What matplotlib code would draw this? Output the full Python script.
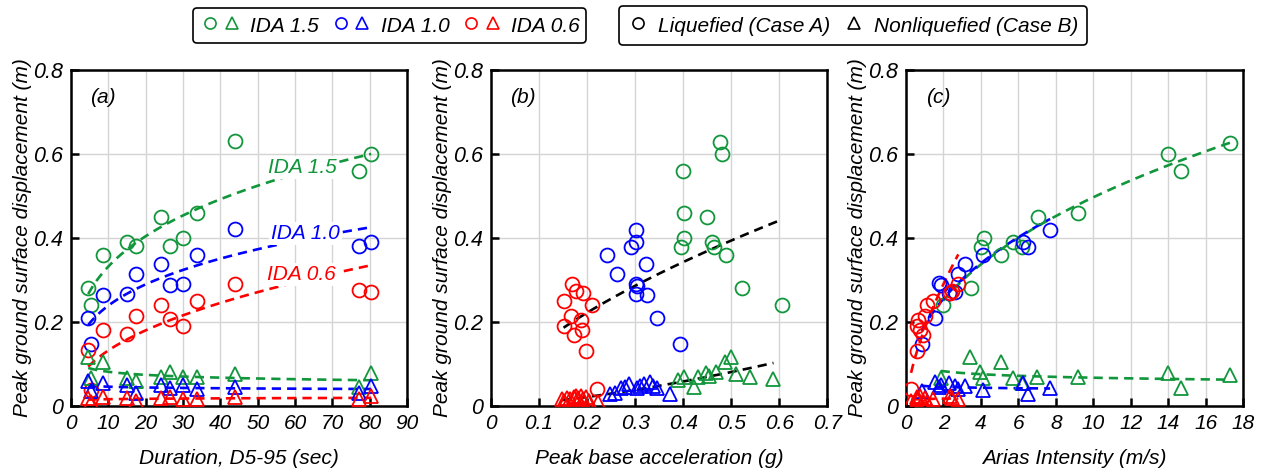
import numpy as np
import matplotlib
matplotlib.use("Agg")
import matplotlib.pyplot as plt
from matplotlib.lines import Line2D
from matplotlib.legend_handler import HandlerTuple

plt.rcParams['font.family'] = ['Liberation Sans', 'DejaVu Sans']
plt.rcParams['font.style'] = 'italic'

GREEN = '#12963c'
BLUE = '#0000ff'
RED = '#ff0000'

# ---------------- Panel (a): Duration D5-95 (sec) ----------------
dur = [4.6, 5.3, 8.5, 14.9, 17.3, 24.0, 26.5, 29.9, 33.8, 43.9, 77.1, 80.4]
a_liq_15 = [0.28, 0.24, 0.36, 0.39, 0.38, 0.45, 0.38, 0.40, 0.46, 0.63, 0.56, 0.60]
a_liq_10 = [0.21, 0.146, 0.264, 0.267, 0.314, 0.338, 0.288, 0.29, 0.36, 0.42, 0.38, 0.39]
a_liq_06 = [0.133, 0.037, 0.18, 0.17, 0.214, 0.24, 0.206, 0.19, 0.25, 0.29, 0.275, 0.27]
a_non_15 = [0.117, 0.065, 0.104, 0.067, 0.058, 0.069, 0.081, 0.069, 0.069, 0.076, 0.045, 0.079]
a_non_10 = [0.058, 0.035, 0.053, 0.049, 0.030, 0.050, 0.042, 0.049, 0.040, 0.045, 0.030, 0.048]
a_non_06 = [0.018, 0.010, 0.020, 0.018, 0.012, 0.018, 0.020, 0.015, 0.015, 0.020, 0.015, 0.023]

# ---------------- Panel (b): Peak base acceleration (g) ----------------
b_liq_15_x = [0.476, 0.481, 0.399, 0.401, 0.401, 0.396, 0.449, 0.46, 0.464, 0.489, 0.523, 0.606]
b_liq_15_y = [0.629, 0.599, 0.559, 0.459, 0.40, 0.379, 0.449, 0.39, 0.379, 0.359, 0.28, 0.24]
b_liq_10_x = [0.241, 0.262, 0.292, 0.301, 0.302, 0.301, 0.303, 0.301, 0.322, 0.324, 0.346, 0.394]
b_liq_10_y = [0.359, 0.314, 0.379, 0.419, 0.389, 0.289, 0.286, 0.266, 0.338, 0.264, 0.21, 0.146]
b_liq_06_x = [0.168, 0.151, 0.176, 0.192, 0.211, 0.166, 0.188, 0.151, 0.189, 0.172, 0.197, 0.22]
b_liq_06_y = [0.289, 0.249, 0.273, 0.268, 0.24, 0.214, 0.204, 0.19, 0.18, 0.168, 0.131, 0.039]
b_non_15_x = [0.390, 0.401, 0.423, 0.430, 0.448, 0.453, 0.469, 0.4875, 0.499, 0.51, 0.54, 0.588]
b_non_15_y = [0.061, 0.069, 0.045, 0.069, 0.077, 0.071, 0.081, 0.103, 0.117, 0.076, 0.069, 0.063]
b_non_10_x = [0.248, 0.258, 0.270, 0.279, 0.288, 0.303, 0.310, 0.319, 0.330, 0.338, 0.345, 0.373]
b_non_10_y = [0.029, 0.031, 0.041, 0.045, 0.051, 0.043, 0.047, 0.051, 0.057, 0.047, 0.043, 0.029]
b_non_06_x = [0.147, 0.152, 0.158, 0.165, 0.172, 0.177, 0.182, 0.187, 0.192, 0.197, 0.203, 0.222]
b_non_06_y = [0.015, 0.012, 0.018, 0.015, 0.020, 0.022, 0.018, 0.023, 0.015, 0.020, 0.012, 0.008]

# ---------------- Panel (c): Arias Intensity (m/s) ----------------
c_liq_15_x = [17.3, 14.0, 14.7, 9.2, 7.06, 4.16, 3.99, 5.07, 5.73, 6.17, 3.45, 1.99]
c_liq_15_y = [0.627, 0.599, 0.559, 0.459, 0.449, 0.40, 0.379, 0.359, 0.389, 0.379, 0.28, 0.24]
c_liq_10_x = [7.69, 6.26, 6.53, 4.09, 3.15, 2.79, 1.78, 1.85, 2.31, 2.62, 1.55, 0.84]
c_liq_10_y = [0.419, 0.389, 0.379, 0.359, 0.338, 0.314, 0.292, 0.288, 0.268, 0.272, 0.21, 0.146]
c_liq_06_x = [0.27, 0.57, 0.89, 0.75, 0.60, 0.66, 1.00, 1.14, 1.46, 2.35, 2.44, 2.79]
c_liq_06_y = [0.039, 0.131, 0.168, 0.18, 0.19, 0.204, 0.214, 0.24, 0.249, 0.268, 0.273, 0.289]
c_non_15_x = [3.42, 5.06, 3.95, 4.13, 1.85, 5.73, 6.18, 7.01, 9.2, 14.0, 14.7, 17.3]
c_non_15_y = [0.115, 0.103, 0.081, 0.065, 0.065, 0.065, 0.053, 0.068, 0.068, 0.077, 0.043, 0.073]
c_non_10_x = [0.84, 1.55, 1.78, 1.85, 2.31, 2.62, 2.79, 3.15, 4.09, 6.26, 6.53, 7.69]
c_non_10_y = [0.035, 0.057, 0.045, 0.050, 0.053, 0.047, 0.040, 0.047, 0.037, 0.053, 0.029, 0.041]
c_non_06_x = [0.27, 0.57, 0.60, 0.66, 0.75, 0.89, 1.00, 1.14, 1.46, 2.35, 2.44, 2.79]
c_non_06_y = [0.012, 0.020, 0.015, 0.018, 0.022, 0.012, 0.018, 0.010, 0.015, 0.022, 0.018, 0.015]

ida_labels = ['IDA 1.5', 'IDA 1.0', 'IDA 0.6']
case_labels = ['Liquefied (Case A)', 'Nonliquefied (Case B)']
x_labels = ['Duration, D5-95 (sec)', 'Peak base acceleration (g)', 'Arias Intensity (m/s)']
panel_tags = ['(a)', '(b)', '(c)']
y_label = 'Peak ground surface displacement (m)'

MS_C = 10
MS_T = 10.5
MEW = 1.3
DASH = (0, (3.5, 2.3))
LW = 1.9


def power_fit_line(ax, x, y, color):
    x = np.asarray(x, float)
    y = np.asarray(y, float)
    b, lna = np.polyfit(np.log(x), np.log(y), 1)
    xs = np.linspace(x.min(), x.max(), 200)
    ax.plot(xs, np.exp(lna) * xs ** b, linestyle=DASH, color=color, lw=LW, zorder=2)


def circles(ax, x, y, color):
    ax.plot(x, y, 'o', mfc='none', mec=color, ms=MS_C, mew=MEW, zorder=3)


def tris(ax, x, y, color):
    ax.plot(x, y, '^', mfc='none', mec=color, ms=MS_T, mew=MEW, zorder=3)


fig = plt.figure(figsize=(12.65, 4.72), dpi=100)
W, H = 1265, 472
boxes = [(71, 407), (491, 827.3), (906, 1243.3)]
top, bot = 70, 405.7
axes = []
for (l, r) in boxes:
    ax = fig.add_axes([l / W, (H - bot) / H, (r - l) / W, (bot - top) / H])
    axes.append(ax)

xlims = [(0, 90), (0, 0.7), (0, 18)]
xticks = [np.arange(0, 91, 10), np.round(np.arange(0, 0.71, 0.1), 1), np.arange(0, 19, 2)]
xticklabels = [[str(v) for v in xticks[0]],
               ['0'] + ['%.1f' % v for v in xticks[1][1:]],
               [str(v) for v in xticks[2]]]

for i, ax in enumerate(axes):
    ax.set_xlim(*xlims[i])
    ax.set_ylim(0, 0.8)
    ax.set_xticks(xticks[i])
    ax.set_xticklabels(xticklabels[i])
    ax.set_yticks([0, 0.2, 0.4, 0.6, 0.8])
    ax.set_yticklabels(['0', '0.2', '0.4', '0.6', '0.8'])
    ax.grid(True, color='#d4d4d4', lw=1.0, zorder=0)
    ax.set_axisbelow(True)
    for s in ax.spines.values():
        s.set_linewidth(1.8)
        s.set_color('black')
    ax.tick_params(direction='in', length=6, width=1.8, labelsize=15, pad=6,
                   top=False, right=False)
    for lab in ax.get_yticklabels():
        lab.set_fontstyle('italic')
        lab.set_fontsize(15.5)
    for lab in ax.get_xticklabels():
        lab.set_fontstyle('italic')
    ax.set_ylabel(y_label, fontsize=15, fontstyle='italic', va='center')
    ax.yaxis.set_label_coords(-0.145, 0.5)
    ax.set_xlabel(x_labels[i], fontsize=15, fontstyle='italic', va='center')
    ax.xaxis.set_label_coords(0.5, -0.156)
    ax.text(0.095, 0.917, panel_tags[i], transform=ax.transAxes, fontsize=15,
            fontstyle='italic', ha='center', va='center')

# ---- panel a
ax = axes[0]
for ys, col in [(a_liq_15, GREEN), (a_liq_10, BLUE), (a_liq_06, RED)]:
    power_fit_line(ax, dur, ys, col)
    circles(ax, dur, ys, col)
for ys, col in [(a_non_15, GREEN), (a_non_10, BLUE), (a_non_06, RED)]:
    power_fit_line(ax, dur, ys, col)
    tris(ax, dur, ys, col)
for lab, col, (tx, ty) in zip(ida_labels, [GREEN, BLUE, RED],
                              [(62, 0.567), (62.7, 0.411), (61.8, 0.312)]):
    ax.text(tx, ty, lab, color=col, fontsize=15, fontstyle='italic', ha='center',
            va='center', zorder=4,
            bbox=dict(boxstyle='square,pad=0.1', fc='white', ec='none'))

# ---- panel b
ax = axes[1]
power_fit_line(ax, b_liq_15_x + b_liq_10_x + b_liq_06_x,
               b_liq_15_y + b_liq_10_y + b_liq_06_y, 'black')
power_fit_line(ax, b_non_15_x + b_non_10_x + b_non_06_x,
               b_non_15_y + b_non_10_y + b_non_06_y, 'black')
for xs, ys, col in [(b_liq_15_x, b_liq_15_y, GREEN), (b_liq_10_x, b_liq_10_y, BLUE),
                    (b_liq_06_x, b_liq_06_y, RED)]:
    circles(ax, xs, ys, col)
for xs, ys, col in [(b_non_15_x, b_non_15_y, GREEN), (b_non_10_x, b_non_10_y, BLUE),
                    (b_non_06_x, b_non_06_y, RED)]:
    tris(ax, xs, ys, col)

# ---- panel c
ax = axes[2]
for xs, ys, col in [(c_liq_15_x, c_liq_15_y, GREEN), (c_liq_10_x, c_liq_10_y, BLUE),
                    (c_liq_06_x, c_liq_06_y, RED)]:
    power_fit_line(ax, xs, ys, col)
    circles(ax, xs, ys, col)
for xs, ys, col in [(c_non_15_x, c_non_15_y, GREEN), (c_non_10_x, c_non_10_y, BLUE),
                    (c_non_06_x, c_non_06_y, RED)]:
    power_fit_line(ax, xs, ys, col)
    tris(ax, xs, ys, col)

# ---- legends
def mk(marker, color, ms):
    return Line2D([], [], marker=marker, linestyle='none', mfc='none', mec=color,
                  ms=ms, mew=1.2)

h1 = [(mk('o', c, 8), mk('^', c, 8.5)) for c in [GREEN, BLUE, RED]]
leg1 = fig.legend(h1, ida_labels, loc='center', bbox_to_anchor=(389.5 / W, 1 - 25.5 / H),
                  ncol=3, fontsize=15, handler_map={tuple: HandlerTuple(ndivide=None, pad=0)},
                  handlelength=2.1, handleheight=1.3, handletextpad=0.35, columnspacing=0.5,
                  borderpad=0.3, fancybox=True, edgecolor='black', framealpha=1)
leg1.get_frame().set_linewidth(1.2)
for t in leg1.get_texts():
    t.set_fontstyle('italic')

h2 = [mk('o', 'black', 8), mk('^', 'black', 8.5)]
leg2 = fig.legend(h2, case_labels, loc='center', bbox_to_anchor=(853 / W, 1 - 25.5 / H),
                  ncol=2, fontsize=15, handlelength=1.0, handleheight=1.3, handletextpad=0.5,
                  columnspacing=0.6, borderpad=0.4, fancybox=True,
                  edgecolor='black', framealpha=1)
leg2.get_frame().set_linewidth(1.2)
for t in leg2.get_texts():
    t.set_fontstyle('italic')

fig.savefig('out.png', dpi=100)
